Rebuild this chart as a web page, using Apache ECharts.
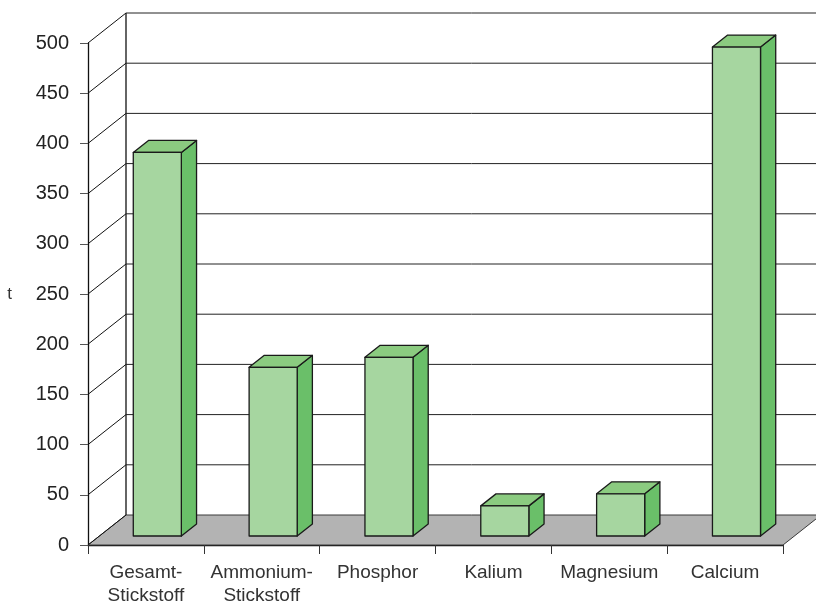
<!DOCTYPE html>
<html>
<head>
<meta charset="utf-8">
<script src="https://cdn.jsdelivr.net/npm/echarts@6/dist/echarts.min.js"></script>
<style>
  html, body { margin: 0; padding: 0; background: #fff; }
  #chart { width: 816px; height: 601px; }
</style>
</head>
<body>
<div id="chart"></div>
<script>
// Nutrient loads in tonnes
const categories = ['Gesamt-\nStickstoff', 'Ammonium-\nStickstoff', 'Phosphor', 'Kalium', 'Magnesium', 'Calcium'];
const values = [382, 168, 178, 30, 42, 487];
const yTicks = [0, 50, 100, 150, 200, 250, 300, 350, 400, 450, 500];
const yMax = 500;

// Pseudo-3D geometry (pixels): wall depth offset and bar depth band
const DX = 38, DY = -30;
const BAR_FRONT = 0.3, BAR_BACK = 0.7;
const BAR_WIDTH_RATIO = 0.415;
const FONT = '"Liberation Sans", Arial, sans-serif';

const chart = echarts.init(document.getElementById('chart'), null, { renderer: 'canvas' });

function renderFrame(params, api) {
  const cs = params.coordSys;
  const x0 = cs.x, x1 = cs.x + cs.width;
  const yb = api.coord([0, 0])[1];
  const yTop = api.coord([0, yMax])[1];
  const children = [];
  // floor
  children.push({
    type: 'polygon',
    shape: { points: [[x0, yb], [x1, yb], [x1 + DX, yb + DY], [x0 + DX, yb + DY]] },
    style: { fill: '#b3b3b3', stroke: '#3a3a3a', lineWidth: 1 }
  });
  // back wall left edge
  children.push({
    type: 'line',
    shape: { x1: x0 + DX, y1: yb + DY, x2: x0 + DX, y2: yTop + DY },
    style: { stroke: '#111', lineWidth: 1.3 }
  });
  yTicks.forEach(function (v) {
    const y = api.coord([0, v])[1];
    if (v > 0) {
      children.push({
        type: 'line',
        shape: { x1: x0 + DX, y1: y + DY, x2: x1 + DX, y2: y + DY },
        style: { stroke: '#222', lineWidth: 1 }
      });
    }
    children.push({
      type: 'line',
      shape: { x1: x0, y1: y, x2: x0 + DX, y2: y + DY },
      style: { stroke: '#111', lineWidth: 1 }
    });
  });
  return { type: 'group', children: children };
}

function renderBar(params, api) {
  const idx = api.value(0);
  const top = api.coord([idx, api.value(1)]);
  const base = api.coord([idx, 0]);
  const band = api.size([1, 0])[0];
  const w = band * BAR_WIDTH_RATIO;
  const xl = top[0] - w / 2 + DX * BAR_FRONT;
  const xr = xl + w;
  const yt = top[1] + DY * BAR_FRONT;
  const yb = base[1] + DY * BAR_FRONT;
  const dx = DX * (BAR_BACK - BAR_FRONT);
  const dy = DY * (BAR_BACK - BAR_FRONT);
  const edge = { stroke: '#1a1a1a', lineWidth: 1.3, lineJoin: 'round' };
  return {
    type: 'group',
    children: [
      {
        type: 'polygon',
        shape: { points: [[xr, yt], [xr + dx, yt + dy], [xr + dx, yb + dy], [xr, yb]] },
        style: Object.assign({ fill: '#6abf69' }, edge)
      },
      {
        type: 'polygon',
        shape: { points: [[xl, yt], [xr, yt], [xr + dx, yt + dy], [xl + dx, yt + dy]] },
        style: Object.assign({ fill: '#8bcb80' }, edge)
      },
      {
        type: 'rect',
        shape: { x: xl, y: yt, width: w, height: yb - yt },
        style: Object.assign({ fill: '#a6d6a0' }, edge)
      }
    ]
  };
}

chart.setOption({
  animation: false,
  backgroundColor: '#ffffff',
  grid: { left: 88, right: 33, top: 43, bottom: 56, containLabel: false, outerBoundsMode: 'none' },
  xAxis: {
    type: 'category',
    data: categories,
    boundaryGap: true,
    axisLine: { show: true, lineStyle: { color: '#111', width: 1.3 } },
    axisTick: { show: true, alignWithLabel: false, length: 9, lineStyle: { color: '#333' } },
    axisLabel: { interval: 0, fontSize: 19, lineHeight: 23, color: '#333', margin: 16, fontFamily: FONT },
    splitLine: { show: false }
  },
  yAxis: {
    type: 'value',
    min: 0,
    max: yMax,
    interval: 50,
    name: 't',
    nameLocation: 'middle',
    nameRotate: 0,
    nameGap: 76,
    nameTextStyle: { fontSize: 17, color: '#333', fontFamily: FONT },
    axisLine: { show: true, lineStyle: { color: '#111', width: 1.3 } },
    axisTick: { show: true, length: 8, lineStyle: { color: '#555' } },
    axisLabel: { fontSize: 20, color: '#222', margin: 19, fontFamily: FONT },
    splitLine: { show: false }
  },
  series: [
    {
      type: 'custom',
      z: 1,
      silent: true,
      renderItem: renderFrame,
      data: [[0, 0]]
    },
    {
      type: 'custom',
      z: 3,
      renderItem: renderBar,
      encode: { x: 0, y: 1 },
      data: values.map(function (v, i) { return [i, v]; })
    }
  ]
});
</script>
</body>
</html>
